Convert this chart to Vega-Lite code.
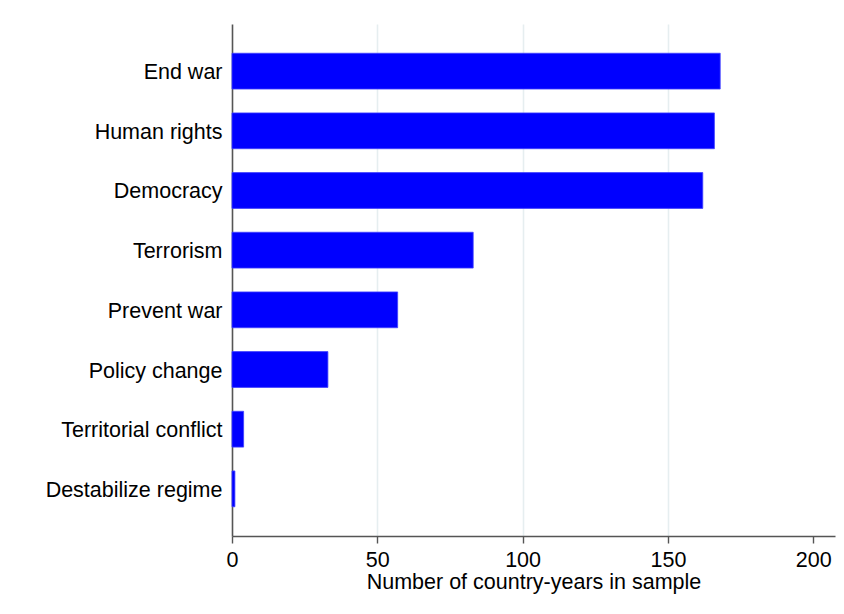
{
  "$schema": "https://vega.github.io/schema/vega-lite/v6.json",
  "autosize": "none",
  "width": 603,
  "height": 512,
  "padding": {"left": 232, "top": 24, "right": 9, "bottom": 78},
  "background": "white",
  "config": {
    "view": {"stroke": null},
    "font": "Liberation Sans"
  },
  "data": {
    "values": [
      {"goal": "End war", "count": 168},
      {"goal": "Human rights", "count": 166},
      {"goal": "Democracy", "count": 162},
      {"goal": "Terrorism", "count": 83},
      {"goal": "Prevent war", "count": 57},
      {"goal": "Policy change", "count": 33},
      {"goal": "Territorial conflict", "count": 4},
      {"goal": "Destabilize regime", "count": 1}
    ]
  },
  "mark": {"type": "bar", "color": "#0000ff", "stroke": "#4040ff", "strokeWidth": 0.8},
  "encoding": {
    "y": {
      "field": "goal",
      "type": "nominal",
      "sort": null,
      "scale": {"paddingInner": 0.4, "paddingOuter": 0.49},
      "axis": {
        "title": null,
        "ticks": false,
        "labelFontSize": 21.5,
        "labelColor": "#000000",
        "labelPadding": 10,
        "labelOffset": 2,
        "domainColor": "#555555",
        "domainWidth": 1.6,
        "grid": false
      }
    },
    "x": {
      "field": "count",
      "type": "quantitative",
      "scale": {"domain": [0, 207.5], "nice": false, "zero": true},
      "axis": {
        "title": "Number of country-years in sample",
        "titleFontSize": 21.5,
        "titleFontWeight": "normal",
        "titleColor": "#000000",
        "titlePadding": 1,
        "values": [0, 50, 100, 150, 200],
        "labelFontSize": 21.5,
        "labelColor": "#000000",
        "labelPadding": 6,
        "labelFlush": false,
        "tickSize": 7,
        "tickColor": "#555555",
        "tickWidth": 1.4,
        "domainColor": "#555555",
        "domainWidth": 1.6,
        "grid": true,
        "gridColor": {"condition": {"test": "datum.value === 0 || datum.value === 200", "value": "transparent"}, "value": "#e6eef0"},
        "gridWidth": 1.6
      }
    }
  }
}
